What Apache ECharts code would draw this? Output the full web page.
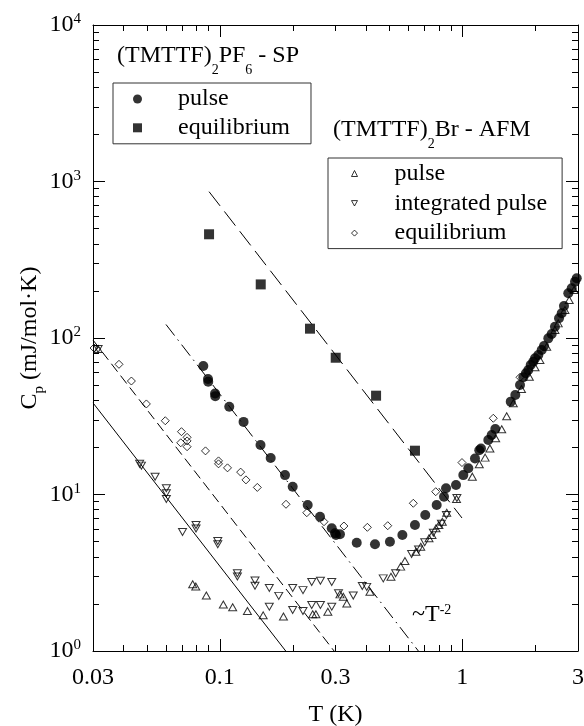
<!DOCTYPE html>
<html>
<head>
<meta charset="utf-8">
<script src="https://cdn.jsdelivr.net/npm/echarts@6/dist/echarts.min.js"></script>
<style>
html,body{margin:0;padding:0;background:#fff;}
#chart{width:584px;height:726px;}
</style>
</head>
<body>
<div id="chart"></div>
<script>
// ---------------- data ----------------
// (TMTTF)2PF6 - SP, pulse  [T (K), Cp (mJ/mol K)]
const pf6Pulse = [
  [0.0855,66.2],[0.0894,54.7],[0.0896,52.5],[0.0956,44.2],[0.0958,42.5],[0.1094,36.4],[0.1253,29.1],
  [0.1472,20.7],[0.1621,17.1],[0.1857,13.3],[0.1998,11.2],[0.2304,8.57],[0.259,7.21],[0.2895,6.08],
  [0.2986,5.65],[0.3014,5.51],[0.313,5.57],[0.367,4.92],[0.4365,4.81],[0.503,4.99],[0.566,5.51],
  [0.638,6.38],[0.7036,7.39],[0.784,8.57],[0.8406,9.68],[0.857,10.95],[0.942,11.5],[1.0095,13.3],
  [1.059,14.7],[1.128,17.0],[1.175,19.2],[1.194,19.7],[1.28,22.3],[1.322,24.0],[1.368,26.2],
  [1.584,39.2],[1.654,43.2],[1.73,50.1],[1.785,56.1],[1.83,59.5],[1.872,62.5],[1.914,67.2],
  [1.962,70.6],[1.995,74.1],[2.058,77.9],[2.125,83.8],[2.172,88.9],[2.263,99.5],[2.337,106],
  [2.41,118],[2.505,133.6],[2.57,143.8],[2.626,160],[2.736,193],[2.826,207.8],[2.916,229],[2.964,240.7]
];
// (TMTTF)2PF6 - SP, equilibrium
const pf6Equil = [[0.0903,460],[0.1475,220],[0.2355,114.7],[0.3006,74.8],[0.441,42.8],[0.638,19.05]];
// (TMTTF)2Br - AFM, pulse
const brPulse = [
  [0.0315,85],[0.0773,2.67],[0.0796,2.58],[0.088,2.26],[0.1034,1.98],[0.113,1.905],[0.130,1.80],
  [0.151,1.69],[0.183,1.66],[0.2416,1.716],[0.249,1.716],[0.279,1.78],[0.313,2.30],[0.323,2.22],
  [0.334,2.01],[0.416,2.39],[0.508,2.98],[0.557,3.46],[0.580,3.76],[0.644,4.31],[0.674,4.64],
  [0.729,5.25],[0.750,5.51],[0.779,6.08],[0.801,6.38],[0.827,6.70],[0.8625,7.65],[0.9465,9.36],
  [1.10,13.0],[1.175,15.6],[1.242,17.2],[1.30,19.7],[1.373,22.9],[1.454,26.1],[1.524,31.6],
  [1.623,38.3],[1.754,47.2],[1.89,56.6],[1.995,65.0],[2.09,72.3],[2.229,88.0],[2.41,112.5],
  [2.487,124],[2.65,151],[2.76,175],[2.89,202.6]
];
// (TMTTF)2Br - AFM, integrated pulse
const brIntPulse = [
  [0.0315,85],[0.0467,15.7],[0.0475,15.3],[0.0541,13.0],[0.0602,10.96],[0.0602,10.18],[0.0602,9.36],
  [0.0702,5.76],[0.0798,6.38],[0.0798,6.06],[0.0981,5.04],[0.0981,4.81],[0.1182,3.14],[0.1182,2.99],
  [0.1397,2.82],[0.1397,2.61],[0.16,2.53],[0.175,2.25],[0.1998,2.53],[0.2203,2.45],[0.2394,2.76],
  [0.26,2.81],[0.2895,2.76],[0.3087,2.34],[0.355,2.26],[0.16,1.92],[0.1998,1.83],[0.2203,1.80],
  [0.2394,1.97],[0.26,1.97],[0.2895,1.92],[0.387,2.60],[0.4035,2.57],[0.472,2.91],[0.531,3.14],
  [0.618,4.17],[0.66,4.45],[0.70,4.95],[0.76,5.7],[0.82,6.5],[0.86,7.4],[0.95,9.5]
];
// (TMTTF)2Br - AFM, equilibrium
const brEquil = [
  [0.0303,86.3],[0.0384,67.9],[0.0432,53.1],[0.0498,37.9],[0.0596,29.6],[0.0695,25.2],[0.0733,23.2],
  [0.0733,22.0],[0.069,21.4],[0.0733,20.2],[0.0873,19.0],[0.0988,16.4],[0.0988,15.7],[0.1076,14.8],
  [0.1219,13.9],[0.1282,12.4],[0.1428,11.1],[0.1875,8.66],[0.2284,7.65],[0.269,6.70],[0.325,6.29],
  [0.406,6.17],[0.4927,6.32],[0.628,8.79],[0.777,10.42],[0.997,16.0],[1.342,30.7],[1.73,56.1]
];
// ~T^-2 guide lines (end points)
const guideLongDash = [[0.0903,861],[0.997,7.08]];
const guideDashDot  = [[0.060,122],[0.659,1.0]];
const guideDash     = [[0.03,97],[0.296,1.0]];
const guideSolid    = [[0.03,38.5],[0.187,1.0]];

// axes / ticks
const xMin = 0.03, xMax = 3, yMin = 1, yMax = 10000;
const xLabelValues = [0.03, 0.1, 0.3, 1, 3];
const xLabelTexts  = ['0.03', '0.1', '0.3', '1', '3'];
const xMajorTicks = [0.1, 1];
const xMinorTicks = [0.04,0.05,0.06,0.07,0.08,0.09,0.2,0.3,0.4,0.5,0.6,0.7,0.8,0.9,2];
const yMajorTicks = [1, 10, 100, 1000, 10000];
const yMinorTicks = [];
[1, 10, 100, 1000].forEach(d => { for (let k = 2; k <= 9; k++) yMinorTicks.push(d * k); });

// legend labels
const legendPF6 = ['pulse', 'equilibrium'];
const legendBr  = ['pulse', 'integrated pulse', 'equilibrium'];

// ---------------- chart ----------------
const FONT = 'Liberation Serif';
const chart = echarts.init(document.getElementById('chart'), null, {renderer: 'canvas'});

const nudge = v => v === xMin ? v * (1 + 1e-9) : (v === xMax ? v * (1 - 1e-9) : v);
const nudgeY = v => v === yMin ? v * (1 + 1e-12) : (v === yMax ? v * (1 - 1e-12) : v);

function xAxisDef(pos, ticks, len, withLabels, showLine) {
  return {
    type: 'log', logBase: 10, min: xMin, max: xMax, position: pos,
    axisLine: {show: showLine, lineStyle: {color: '#000', width: 1}},
    axisTick: {show: true, inside: true, length: len, customValues: ticks.map(nudge), lineStyle: {color: '#000', width: 1}},
    minorTick: {show: false},
    splitLine: {show: false},
    axisLabel: withLabels ? {
      show: true, customValues: xLabelValues.map(nudge), margin: 15,
      fontFamily: FONT, fontSize: 24, color: '#000',
      formatter: v => {
        let best = 0;
        xLabelValues.forEach((lv, i) => { if (Math.abs(Math.log(lv / v)) < Math.abs(Math.log(xLabelValues[best] / v))) best = i; });
        return xLabelTexts[best];
      }
    } : {show: false},
    name: withLabels ? 'T (K)' : '',
    nameLocation: 'middle', nameGap: 52, nameMoveOverlap: false,
    nameTextStyle: {fontFamily: FONT, fontSize: 24, color: '#000'}
  };
}
function yAxisDef(pos, ticks, len, withLabels, showLine) {
  return {
    type: 'log', logBase: 10, min: yMin, max: yMax, position: pos,
    axisLine: {show: showLine, lineStyle: {color: '#000', width: 1}},
    axisTick: {show: true, inside: true, length: len, customValues: ticks.map(nudgeY), lineStyle: {color: '#000', width: 1}},
    minorTick: {show: false},
    splitLine: {show: false},
    axisLabel: withLabels ? {
      show: true, customValues: yMajorTicks.map(nudgeY), margin: 12,
      formatter: v => '{b|10}{s|' + Math.round(Math.log10(v)) + '}',
      rich: {
        b: {fontFamily: FONT, fontSize: 24, lineHeight: 24, color: '#000', verticalAlign: 'top'},
        s: {fontFamily: FONT, fontSize: 15, lineHeight: 15, color: '#000', verticalAlign: 'top', padding: [-1, 0, 0, 0]}
      }
    } : {show: false},
    name: withLabels ? '{m|C}{s|p}{m| (mJ/mol·K)}' : '',
    nameLocation: 'middle', nameGap: 51, nameRotate: 90, nameMoveOverlap: false,
    nameTextStyle: {
      rich: {
        m: {fontFamily: FONT, fontSize: 24, lineHeight: 24, color: '#000', verticalAlign: 'top'},
        s: {fontFamily: FONT, fontSize: 15, lineHeight: 15, color: '#000', verticalAlign: 'top', padding: [14, 0, 0, 0]}
      }
    }
  };
}

const hollow = {color: 'rgba(0,0,0,0)', borderColor: '#000', borderWidth: 1};
const filled = {color: '#000'};

function guide(data, type) {
  return {
    type: 'line', data: data, xAxisIndex: 0, yAxisIndex: 0, showSymbol: false, symbol: 'none',
    silent: true, animation: false, z: 1,
    lineStyle: {color: '#000', width: 1, type: type}
  };
}

const option = {
  animation: false,
  backgroundColor: '#fff',
  grid: {left: 93, top: 25, right: 6, bottom: 75, containLabel: false, outerBoundsMode: 'none'},
  xAxis: [
    xAxisDef('bottom', xMajorTicks, 12, true, true),
    xAxisDef('bottom', xMinorTicks, 6, false, false),
    xAxisDef('top', xMajorTicks, 12, false, true),
    xAxisDef('top', xMinorTicks, 6, false, false)
  ],
  yAxis: [
    yAxisDef('left', yMajorTicks, 12, true, true),
    yAxisDef('left', yMinorTicks, 6, false, false),
    yAxisDef('right', yMajorTicks, 12, false, true),
    yAxisDef('right', yMinorTicks, 6, false, false)
  ],
  legend: [
    {
      data: [
        {name: 'PF6 ' + legendPF6[0], icon: 'circle', itemStyle: filled},
        {name: 'PF6 ' + legendPF6[1], icon: 'rect', itemStyle: filled}
      ],
      orient: 'vertical', left: 113, top: 83, padding: [4, 21, 4, 20],
      itemWidth: 9, itemHeight: 9, itemGap: 4.8,
      borderColor: '#333', borderWidth: 1, selectedMode: false,
      textStyle: {fontFamily: FONT, fontSize: 24, color: '#000', lineHeight: 20, padding: [0, 0, 0, 31]},
      formatter: n => n.replace(/^\S+ /, '')
    },
    {
      data: [
        {name: 'Br ' + legendBr[0], icon: 'triangle', itemStyle: hollow},
        {name: 'Br ' + legendBr[1], icon: 'path://M0,0 L10,0 L5,9 Z', itemStyle: hollow},
        {name: 'Br ' + legendBr[2], icon: 'diamond', itemStyle: hollow}
      ],
      orient: 'vertical', left: 328, top: 158, padding: [3.5, 15, 3.5, 23],
      itemWidth: 6, itemHeight: 6, itemGap: 5.8,
      borderColor: '#333', borderWidth: 1, selectedMode: false,
      textStyle: {fontFamily: FONT, fontSize: 24, color: '#000', lineHeight: 20, padding: [0, 0, 0, 32]},
      formatter: n => n.replace(/^\S+ /, '')
    }
  ],
  graphic: [
    {
      type: 'text', left: 117, top: 44, z: 10,
      style: {
        text: '{m|(TMTTF)}{s|2}{m|PF}{s|6}{m| - SP}',
        rich: {
          m: {fontFamily: FONT, fontSize: 24, lineHeight: 24, fill: '#000', verticalAlign: 'top'},
          s: {fontFamily: FONT, fontSize: 14, lineHeight: 14, fill: '#000', verticalAlign: 'top', padding: [19, 0, 0, 0]}
        }
      }
    },
    {
      type: 'text', left: 333, top: 118, z: 10,
      style: {
        text: '{m|(TMTTF)}{s|2}{m|Br - AFM}',
        rich: {
          m: {fontFamily: FONT, fontSize: 24, lineHeight: 24, fill: '#000', verticalAlign: 'top'},
          s: {fontFamily: FONT, fontSize: 14, lineHeight: 14, fill: '#000', verticalAlign: 'top', padding: [19, 0, 0, 0]}
        }
      }
    },
    {
      type: 'text', left: 412, top: 603, z: 10,
      style: {
        text: '{m|~T}{s|-2}',
        rich: {
          m: {fontFamily: FONT, fontSize: 24, lineHeight: 24, fill: '#000', verticalAlign: 'top'},
          s: {fontFamily: FONT, fontSize: 14, lineHeight: 14, fill: '#000', verticalAlign: 'top', padding: [0, 0, 0, 0]}
        }
      }
    }
  ],
  series: [
    guide(guideLongDash, [18, 7]),
    guide(guideDashDot, [14, 5, 1.5, 5]),
    guide(guideDash, [10, 5]),
    guide(guideSolid, 'solid'),
    {name: 'Br ' + legendBr[2], type: 'scatter', data: brEquil, symbol: 'diamond', symbolSize: 8, itemStyle: hollow, z: 2},
    {name: 'Br ' + legendBr[1], type: 'scatter', data: brIntPulse, symbol: 'triangle', symbolRotate: 180, symbolSize: [8, 7], itemStyle: hollow, z: 2},
    {name: 'Br ' + legendBr[0], type: 'scatter', data: brPulse, symbol: 'triangle', symbolSize: [8, 7], itemStyle: hollow, z: 2},
    {name: 'PF6 ' + legendPF6[1], type: 'scatter', data: pf6Equil, symbol: 'rect', symbolSize: 10, itemStyle: filled, z: 3},
    {name: 'PF6 ' + legendPF6[0], type: 'scatter', data: pf6Pulse, symbol: 'circle', symbolSize: 10, itemStyle: filled, z: 3}
  ]
};
chart.setOption(option);
</script>
</body>
</html>
